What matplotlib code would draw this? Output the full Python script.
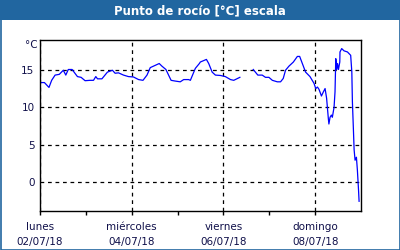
import numpy as np
import matplotlib
matplotlib.use("Agg")
import matplotlib.pyplot as plt
from matplotlib.patches import Rectangle

# hours since lunes 02/07/18 00:00
hours = [0, 2.3, 4.7, 6.1, 7.9, 10.1, 12.2, 13.5, 14.8, 16.8, 19.6, 21.5, 23.6,
         26.2, 28.0, 29.2, 30.1, 32.4, 35.3, 37.9, 39.3, 41.1, 43.7, 46.3, 48.9,
         51.6, 53.9, 56.0, 57.7, 59.4, 62.4, 63.8, 65.9, 68.6, 70.8, 73.4, 75.2,
         77.8, 78.7, 81.3, 83.4, 83.9, 87.1, 88.3, 90.1, 91.8, 94.4, 97.0, 99.7,
         101.4, 104.6, 108.0, 111.6, 114.0, 116.3, 118.0, 119.8, 121.6, 124.2,
         125.9, 127.3, 128.5, 130.3, 132.6, 134.7, 135.9, 137.3, 139.0, 141.3,
         143.4, 144.3, 145.2, 146.0, 147.3, 148.3, 149.2, 150.0, 150.9, 151.2,
         151.8, 152.5, 153.0, 153.9, 154.4, 154.8, 155.3, 155.7, 156.2, 156.9,
         157.0, 157.9, 159.1, 160.9, 162.6, 163.2, 163.5, 164.0, 164.4, 164.9,
         165.6, 166.1, 166.7, 167.0]
dewpoint = [13.3, 13.3, 12.65, 13.6, 14.3, 14.4, 14.95, 14.3, 15.05, 15.05, 14.1,
            14.0, 13.55, 13.6, 13.6, 14.1, 13.8, 13.8, 14.7, 14.95, 14.55, 14.6,
            14.3, 14.1, 14.05, 13.7, 13.6, 14.3, 15.3, 15.5, 15.85, 15.5, 15.05,
            13.6, 13.5, 13.4, 13.7, 13.7, 13.6, 15.2, 15.85, 16.05, 16.4, 15.85,
            14.7, 14.3, 14.25, 14.1, 13.7, 13.6, 14.0, np.nan, 15.05, 14.3, 14.3,
            14.0, 14.0, 13.6, 13.4, 13.4, 13.85, 14.95, 15.5, 16.05, 16.8, 16.8,
            15.85, 14.7, 14.1, 13.2, 12.5, 12.7, 12.4, 11.5, 12.05, 12.5, 11.2,
            8.5, 7.75, 8.65, 8.95, 8.65, 10.0, 12.05, 16.5, 15.05, 15.85, 15.05,
            16.05, 17.4, 17.85, 17.55, 17.4, 16.95, 14.7, 10.7, 7.2, 4.3, 2.9,
            3.3, 1.6, -1.05, -2.6]

major_pos = [0, 48, 96, 144]
major_labels = ["lunes\n02/07/18", "miércoles\n04/07/18", "viernes\n06/07/18", "domingo\n08/07/18"]
minor_pos = [24, 72, 120]
y_ticks = [0, 5, 10, 15]

blue = "#2166a0"
txt = "#10104a"

fig = plt.figure(figsize=(4, 2.5), dpi=100)
fig.patch.set_facecolor("white")
fig.patches.append(Rectangle((0, 0.92), 1, 0.08, transform=fig.transFigure,
                             facecolor=blue, edgecolor="none", zorder=0))
fig.patches.append(Rectangle((0.00125, 0.002), 0.9975, 0.996, transform=fig.transFigure,
                             facecolor="none", edgecolor=blue, linewidth=1.2, zorder=5))
fig.text(0.5, 0.958, "Punto de rocío [°C] escala", color="white", ha="center",
         va="center", fontsize=8.5, fontweight="bold", family="DejaVu Sans")

ax = fig.add_axes([0.1, 0.156, 0.8025, 0.684])
ax.plot(hours, dewpoint, color="#0000ff", linewidth=0.9)
ax.set_xlim(0, 168)
ax.set_ylim(-3.9, 19)
ax.set_xticks(major_pos)
ax.set_xticklabels(major_labels, linespacing=1.55)
ax.set_xticks(minor_pos, minor=True)
ax.set_yticks(y_ticks)
ax.grid(True, which="major", color="black", linestyle=(0, (3, 3)), linewidth=0.9)
ax.tick_params(axis="x", which="both", direction="out", length=3, width=1,
               labelsize=7.5, labelcolor=txt, pad=5)
ax.tick_params(axis="y", length=0, labelsize=7.5, labelcolor=txt, pad=4)
for s in ax.spines.values():
    s.set_linewidth(1.0)
    s.set_color("black")
fig.text(0.078, 0.80, "°C", fontsize=7.5, color=txt, ha="center", va="bottom")

fig.savefig("out.png", dpi=100, facecolor="white")
